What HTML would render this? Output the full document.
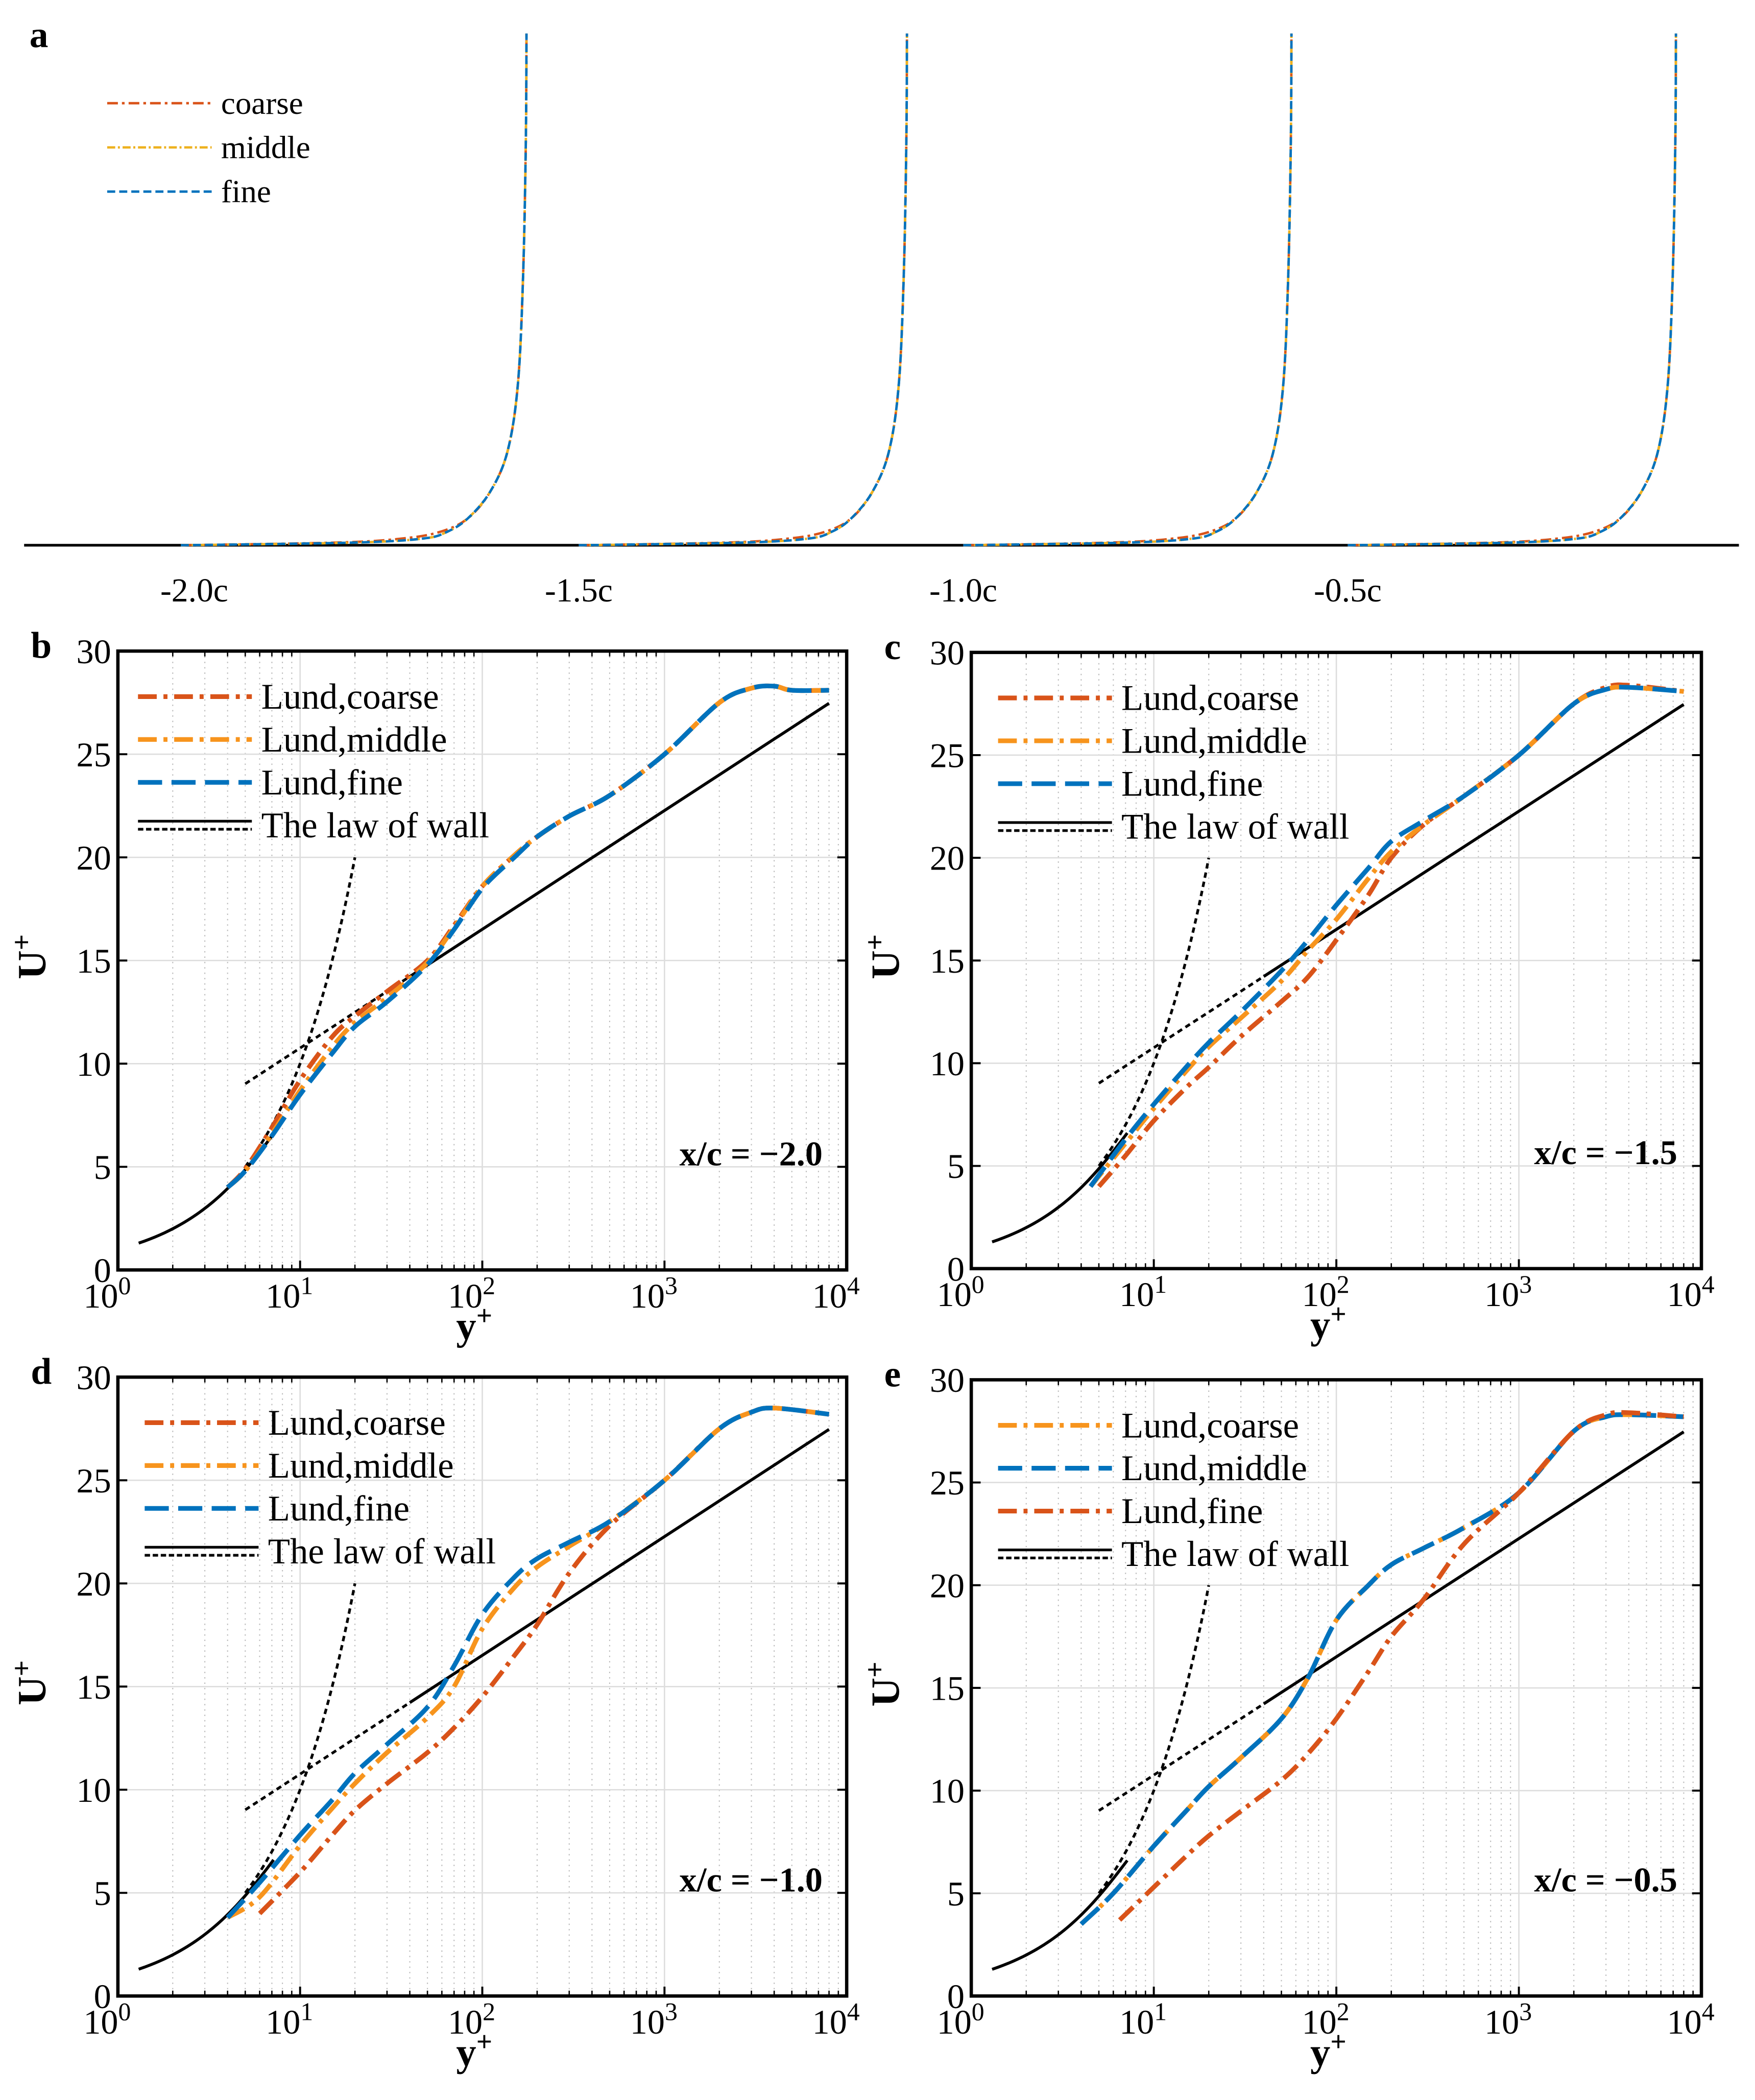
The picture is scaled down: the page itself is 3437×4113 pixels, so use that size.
<!DOCTYPE html>
<html><head><meta charset="utf-8"><style>
html,body{margin:0;padding:0;background:#fff}
svg{display:block}
text{font-family:"Liberation Serif",serif;fill:#000}
</style></head><body>
<svg id="fig" xmlns="http://www.w3.org/2000/svg" width="3437" height="4113" viewBox="0 0 1310 1567.6">
<rect x="0" y="0" width="1310" height="1568" fill="#fff"/>
</svg>
<script>
// ---------- Panel a data ----------
const aStations = [-2.0, -1.5, -1.0, -0.5];
const aTickLabels = ["-2.0c", "-1.5c", "-1.0c", "-0.5c"];
const aHeights = [0, 2, 5, 10, 20, 40, 70, 120, 200, 300, 382];
const aU_fine =   [0, 0.50, 0.70, 0.77, 0.83, 0.895, 0.945, 0.975, 0.99, 0.998, 1.0];
const aU_middle = [0, 0.50, 0.70, 0.77, 0.83, 0.895, 0.945, 0.975, 0.99, 0.998, 1.0];
const aU_coarse = [0, 0.45, 0.64, 0.75, 0.83, 0.895, 0.945, 0.975, 0.99, 0.998, 1.0];

// ---------- Panels b-e data ----------
const yB = [4,5,7,10,15,20,30,50,70,100,150,200,300,500,1000,2000,3000,4000,5000,8000];
const bFine =   [4,4.8,6.5,8.5,10.5,11.8,13,14.8,16.5,18.5,20,21,22,23,25,27.5,28.2,28.3,28.1,28.1];
const bMiddle = [4,4.8,6.6,8.7,10.8,12,13.2,14.9,16.6,18.6,20.1,21,22,23,25,27.5,28.2,28.3,28.1,28.1];
const bCoarse = [4,4.9,6.9,9.2,11.3,12.3,13.5,15,16.7,18.6,20.1,21,22,23,25,27.5,28.2,28.3,28.1,28.1];

const yC = [4.5,7,10,15,20,30,50,70,100,150,200,300,500,1000,2000,3000,4000,8000];
const cFine =   [4,6.3,8,9.8,11,12.5,14.5,16,17.7,19.5,20.8,21.8,23,25,27.5,28.2,28.3,28.1];
const cMiddle = [4,6.1,7.8,9.6,10.8,12.2,14,15.5,17,19,20.3,21.6,23,25,27.5,28.2,28.3,28.1];
const yC2 = [5,7,10,15,20,30,50,70,100,150,200,300,500,1000,2000,3000,4000,8000];
const cCoarse = [4,5.5,7.2,8.8,9.8,11.3,13,14.2,16,18.2,20,21.6,23,25,27.5,28.3,28.4,28.1];

const yD = [4,6,10,15,20,30,50,70,100,150,200,300,500,1000,2000,3000,4000,8000];
const dFine =   [3.8,5.5,7.8,9.5,10.8,12.2,14,16,18.5,20.3,21.2,22,23,25,27.5,28.3,28.5,28.2];
const dMiddle = [3.8,4.8,7.3,9.1,10.3,11.8,13.5,15,17.8,19.8,20.8,21.8,23,25,27.5,28.3,28.5,28.2];
const yD2 = [6,10,15,20,30,50,70,100,150,200,300,500,1000,2000,3000,4000,8000];
const dCoarse = [4,6,7.8,9,10.3,11.8,13,14.5,16.5,18,20.5,22.8,25,27.5,28.3,28.5,28.2];

const yE = [4,6,10,15,20,30,50,70,100,150,200,300,500,1000,2000,3000,4000,8000];
const eCoarse = [3.5,5,7.3,9,10.2,11.6,13.5,15.5,18.3,20,21,21.8,22.8,24.5,27.5,28.2,28.3,28.2];
const eMiddle = [3.5,5,7.3,9,10.2,11.6,13.5,15.5,18.3,20,21,21.8,22.8,24.5,27.5,28.2,28.3,28.2];
const yE2 = [6.5,10,15,20,30,50,70,100,150,200,300,500,1000,2000,3000,4000,8000];
const eFine = [3.7,5.3,6.8,7.8,9,10.5,11.8,13.5,15.8,17.5,19.3,22,24.5,27.5,28.3,28.4,28.2];

const yTickLabels = [0,5,10,15,20,25,30];
const xTickExps = [0,1,2,3,4];

const RED="#D95319", ORANGE="#F7941D", YEL="#EDB120", BLUE="#0072BD";
const NS="http://www.w3.org/2000/svg";
const svg=document.getElementById('fig');
function mk(tag,attrs,parent){const e=document.createElementNS(NS,tag);for(const k in attrs)e.setAttribute(k,attrs[k]);(parent||svg).appendChild(e);return e;}
function smoothPath(pts){
  let d="M"+pts[0][0].toFixed(2)+","+pts[0][1].toFixed(2);
  for(let i=0;i<pts.length-1;i++){
    const p0=pts[i-1]||pts[i],p1=pts[i],p2=pts[i+1],p3=pts[i+2]||p2;
    const c1=[p1[0]+(p2[0]-p0[0])/6,p1[1]+(p2[1]-p0[1])/6];
    const c2=[p2[0]-(p3[0]-p1[0])/6,p2[1]-(p3[1]-p1[1])/6];
    d+=" C"+c1[0].toFixed(2)+","+c1[1].toFixed(2)+" "+c2[0].toFixed(2)+","+c2[1].toFixed(2)+" "+p2[0].toFixed(2)+","+p2[1].toFixed(2);
  }
  return d;
}

// ---------- Panel a ----------
(function(){
  const g=mk('g',{});
  
  
  const base=407, x0=145, per=574;
  const sx=s=>x0+(s+2.0)*per;
  const amp=245;
  const ax=mk('line',{x1:18,y1:base,x2:1298,y2:base,stroke:'#000','stroke-width':2},g);
  
  
  aStations.forEach((s,i)=>{
    const t=mk('text',{x:sx(s),y:449,'font-size':25,'text-anchor':'middle'},g);
    t.textContent=aTickLabels[i];
    
    
  });
  const series=[[aU_coarse,RED,"8 3 2 3",'coarse'],[aU_middle,YEL,"6 2 1.5 2",'middle'],[aU_fine,BLUE,"6 3"]];
  series[2][3]='fine';
  aStations.forEach((s,si)=>{
    series.forEach(([u,col,da,nm])=>{
      const start=sx(s)-(si===0?10:0);
      const end=sx(s)+amp+(si===0?3:0);
      const pts=aHeights.map((h,i)=>[start+u[i]*(end-start),base-h]);
      const p=mk('path',{d:smoothPath(pts),fill:'none',stroke:col,'stroke-width':1.8,'stroke-dasharray':da},g);
      
      
    });
  });
  const lg=[['coarse',RED,"8 3 2 3"],['middle',YEL,"6 2 1.5 2"],['fine',BLUE,"6 3"]];
  lg.forEach((l,i)=>{
    const y=77+i*33;
    const ln=mk('line',{x1:80,y1:y,x2:158,y2:y,stroke:l[1],'stroke-width':1.8,'stroke-dasharray':l[2]},g);
    
    
    const t=mk('text',{x:165,y:y+8,'font-size':24},g);
    t.textContent=l[0];
    
    
  });
  const lt=mk('text',{x:22,y:35,'font-size':28,'font-weight':'bold'},g);
  lt.textContent='a';
  
  
})();

// ---------- Panels b-e ----------
function panel(cfg){
  const g=mk('g',{});
  
  
  const {L,R,T,B}=cfg;
  const X=v=>L+Math.log10(v)/4*(R-L);
  const Y=v=>B-v/30*(B-T);
  for(let e=0;e<4;e++)for(let m=2;m<=9;m++){
    const x=X(m*Math.pow(10,e));
    mk('line',{x1:x,y1:T,x2:x,y2:B,stroke:'#bbb','stroke-width':0.8,'stroke-dasharray':'1 3'},g);
    mk('line',{x1:x,y1:B,x2:x,y2:B-4,stroke:'#000','stroke-width':1},g);
    mk('line',{x1:x,y1:T,x2:x,y2:T+4,stroke:'#000','stroke-width':1},g);
  }
  xTickExps.forEach(e=>{
    const x=X(Math.pow(10,e));
    mk('line',{x1:x,y1:T,x2:x,y2:B,stroke:'#ddd','stroke-width':1},g);
    mk('line',{x1:x,y1:B,x2:x,y2:B-7,stroke:'#000','stroke-width':1.5},g);
    const t=mk('text',{x:x-8,y:B+28,'font-size':26,'text-anchor':'middle'},g);
    t.textContent='10';
    const s=mk('tspan',{dy:-10,'font-size':19},t);s.textContent=String(e);
    
    
  });
  yTickLabels.forEach(v=>{
    const y=Y(v);
    mk('line',{x1:L,y1:y,x2:R,y2:y,stroke:'#ddd','stroke-width':1},g);
    mk('line',{x1:L,y1:y,x2:L+7,y2:y,stroke:'#000','stroke-width':1.5},g);
    mk('line',{x1:R,y1:y,x2:R-7,y2:y,stroke:'#000','stroke-width':1.5},g);
    const t=mk('text',{x:L-5,y:y+9,'font-size':26,'text-anchor':'end'},g);
    t.textContent=String(v);
    
    
  });
  const sp=[];
  for(let U=1.3;U<=6.6;U+=0.1){const k=0.41,Bc=5.0,kU=k*U;const y=U+Math.exp(-k*Bc)*(Math.exp(kU)-1-kU-kU*kU/2-kU*kU*kU/6);sp.push([X(y),Y(U)]);}
  const lw=mk('path',{d:"M"+sp.map(p=>p[0].toFixed(2)+","+p[1].toFixed(2)).join(" L"),fill:'none',stroke:'#000','stroke-width':2.2},g);
  
  
  const vis=[];for(let y=5;y<=20;y+=0.5)vis.push([X(y),Y(y)]);
  const vd=mk('path',{d:"M"+vis.map(p=>p.join(",")).join(" L"),fill:'none',stroke:'#000','stroke-width':2,'stroke-dasharray':'4 3'},g);
  
  
  const loglaw=y=>2.5*Math.log(y)+5.0;
  const l1=mk('line',{x1:X(5),y1:Y(loglaw(5)),x2:X(40),y2:Y(loglaw(40)),stroke:'#000','stroke-width':2,'stroke-dasharray':'4 3'},g);
  
  
  const l2=mk('line',{x1:X(40),y1:Y(loglaw(40)),x2:X(8000),y2:Y(loglaw(8000)),stroke:'#000','stroke-width':2.2},g);
  
  
  cfg.series.forEach(s=>{
    const pts=s.x.map((xv,i)=>[X(xv),Y(s.y[i])]);
    const p=mk('path',{d:smoothPath(pts),fill:'none',stroke:s.c,'stroke-width':3.5,'stroke-dasharray':s.da},g);
    
    
  });
  const fr=mk('rect',{x:L,y:T,width:R-L,height:B-T,fill:'none',stroke:'#000','stroke-width':2.5},g);
  
  
  const lx=L+cfg.legDx, ly=T+34;
  cfg.series.forEach((s,i)=>{
    const y=ly+i*32;
    mk('line',{x1:lx,y1:y,x2:lx+85,y2:y,stroke:s.c,'stroke-width':3.5,'stroke-dasharray':s.da},g);
    const t=mk('text',{x:lx+92,y:y+9,'font-size':27},g);
    t.textContent=s.n;
    
    
  });
  const y4=ly+3*32;
  mk('line',{x1:lx,y1:y4-3,x2:lx+85,y2:y4-3,stroke:'#000','stroke-width':2},g);
  mk('line',{x1:lx,y1:y4+3,x2:lx+85,y2:y4+3,stroke:'#000','stroke-width':2,'stroke-dasharray':'4 2'},g);
  const t4=mk('text',{x:lx+92,y:y4+9,'font-size':27},g);
  t4.textContent='The law of wall';
  
  
  const an=mk('text',{x:R-18,y:B-78,'font-size':26,'font-weight':'bold','text-anchor':'end'},g);
  an.textContent=cfg.ann;
  
  
  const yl=mk('text',{x:0,y:0,'font-size':30,'font-weight':'bold',transform:`translate(${L-54},${(T+B)/2+14}) rotate(-90)`},g);
  yl.textContent='U';const ys=mk('tspan',{dy:-11,'font-size':21},yl);ys.textContent='+';
  
  
  const xl=mk('text',{x:(L+R)/2-6,y:B+52,'font-size':30,'font-weight':'bold','text-anchor':'middle'},g);
  xl.textContent='y';const xs=mk('tspan',{dy:-11,'font-size':21},xl);xs.textContent='+';
  
  
  const pl=mk('text',{x:L-65,y:T+5,'font-size':28,'font-weight':'bold'},g);
  pl.textContent=cfg.id;
  
  
}
const DD="14 5 3 5", DA="18 7";
panel({id:'b',L:88,R:632,T:486,B:948,legDx:15,ann:'x/c = \u22122.0',series:[
  {n:'Lund,coarse',x:yB,y:bCoarse,c:RED,da:DD},
  {n:'Lund,middle',x:yB,y:bMiddle,c:ORANGE,da:DD},
  {n:'Lund,fine',x:yB,y:bFine,c:BLUE,da:DA}]});
panel({id:'c',L:725,R:1270,T:487,B:947,legDx:20,ann:'x/c = \u22121.5',series:[
  {n:'Lund,coarse',x:yC2,y:cCoarse,c:RED,da:DD},
  {n:'Lund,middle',x:yC,y:cMiddle,c:ORANGE,da:DD},
  {n:'Lund,fine',x:yC,y:cFine,c:BLUE,da:DA}]});
panel({id:'d',L:88,R:632,T:1028,B:1490,legDx:20,ann:'x/c = \u22121.0',series:[
  {n:'Lund,coarse',x:yD2,y:dCoarse,c:RED,da:DD},
  {n:'Lund,middle',x:yD,y:dMiddle,c:ORANGE,da:DD},
  {n:'Lund,fine',x:yD,y:dFine,c:BLUE,da:DA}]});
panel({id:'e',L:725,R:1270,T:1030,B:1490,legDx:20,ann:'x/c = \u22120.5',series:[
  {n:'Lund,coarse',x:yE,y:eCoarse,c:ORANGE,da:DD},
  {n:'Lund,middle',x:yE,y:eMiddle,c:BLUE,da:DA},
  {n:'Lund,fine',x:yE2,y:eFine,c:RED,da:DD}]});
</script>
</body></html>
